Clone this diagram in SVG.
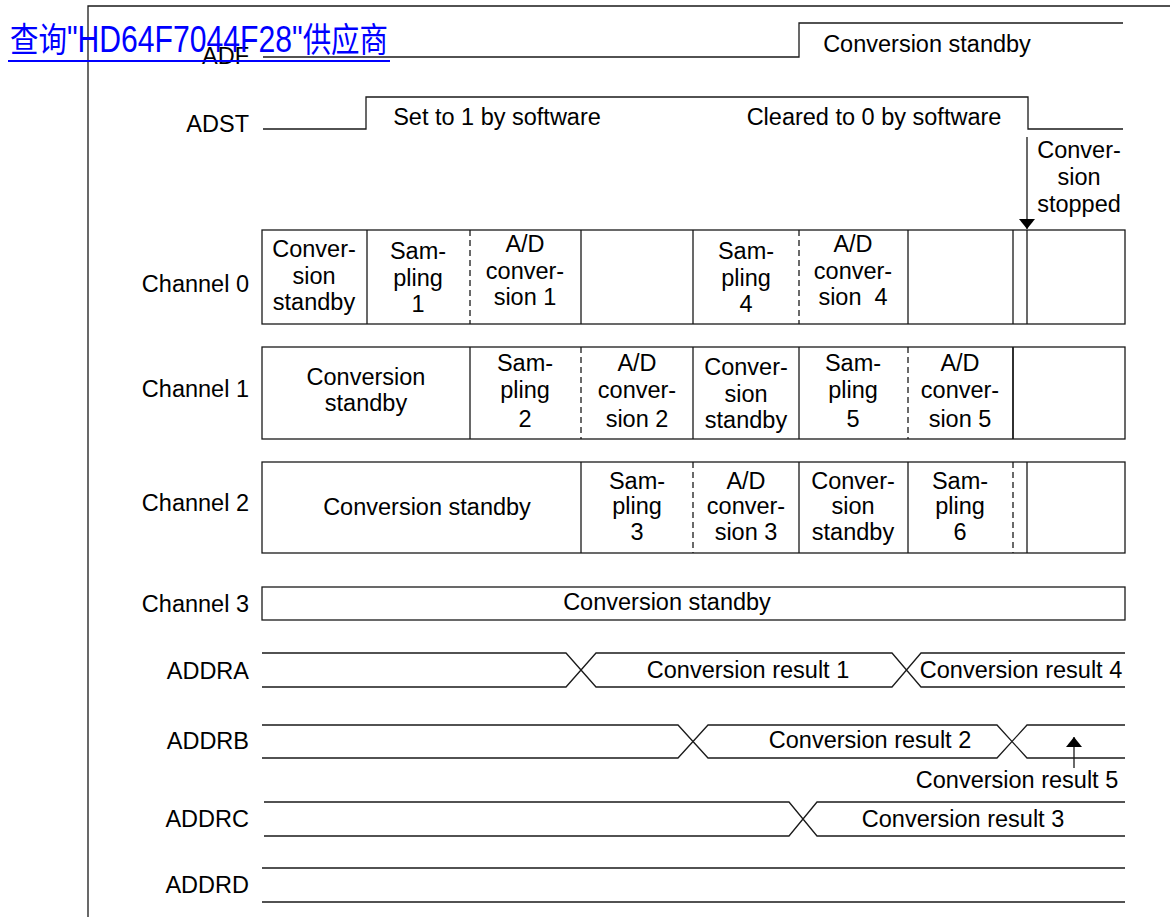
<svg xmlns="http://www.w3.org/2000/svg" width="1170" height="917" viewBox="0 0 1170 917">
<defs>
<style>
.ln{fill:none;stroke:#1a1a1a;stroke-width:1.3}
.ds{fill:none;stroke:#1a1a1a;stroke-width:1.3;stroke-dasharray:6 4}
.bx{fill:#fff;stroke:#1a1a1a;stroke-width:1.3}
text{font-family:"Liberation Sans",Arial,sans-serif;font-size:23.5px;fill:#000}
.lb{text-anchor:end}
.c{text-anchor:middle}
.link{font-family:"Liberation Sans","Noto Sans CJK SC",sans-serif;font-size:36px;fill:#0000ff}
.cjk{font-family:"Noto Sans CJK SC",sans-serif;font-size:34px}
</style>
<marker id="ah" viewBox="0 0 10 16" refX="10" refY="8" markerWidth="10" markerHeight="16" markerUnits="userSpaceOnUse" orient="auto-start-reverse">
<path d="M0,0 L10,8 L0,16 Z" fill="#000"/>
</marker>
</defs>
<rect width="1170" height="917" fill="#fff"/>

<g id="frame">
<path class="ln" d="M88,917 V6 H1170"/>
</g>

<g id="labels">
<text class="lb" x="249" y="64">ADF</text>
<text class="lb" x="249" y="132">ADST</text>
<text class="lb" x="249" y="292">Channel 0</text>
<text class="lb" x="249" y="397">Channel 1</text>
<text class="lb" x="249" y="511">Channel 2</text>
<text class="lb" x="249" y="612">Channel 3</text>
<text class="lb" x="249" y="679">ADDRA</text>
<text class="lb" x="249" y="749">ADDRB</text>
<text class="lb" x="249" y="827">ADDRC</text>
<text class="lb" x="249" y="893">ADDRD</text>
</g>

<g id="adf">
<path class="ln" d="M263,57 H799 V23 H1123"/>
<text class="c" x="927" y="52">Conversion standby</text>
</g>

<g id="adst">
<path class="ln" d="M263,129 H366 V97 H1028 V129 H1123"/>
<text class="c" x="497" y="125">Set to 1 by software</text>
<text class="c" x="874" y="125">Cleared to 0 by software</text>
</g>

<g id="stopped">
<text class="c" x="1079" y="158">Conver-</text>
<text class="c" x="1079" y="185">sion</text>
<text class="c" x="1079" y="212">stopped</text>
</g>

<g id="channel0">
<rect class="bx" x="262" y="230" width="863" height="94"/>
<path class="ln" d="M367,230 V324 M581,230 V324 M693,230 V324 M908,230 V324 M1013,230 V324 M1027,230 V324"/>
<path class="ds" d="M470,230 V324 M799,230 V324"/>
<text class="c" x="314" y="257">Conver-</text>
<text class="c" x="314" y="284">sion</text>
<text class="c" x="314" y="310">standby</text>
<text class="c" x="418" y="259">Sam-</text>
<text class="c" x="418" y="286">pling</text>
<text class="c" x="418" y="312">1</text>
<text class="c" x="525" y="252">A/D</text>
<text class="c" x="525" y="279">conver-</text>
<text class="c" x="525" y="305">sion 1</text>
<text class="c" x="746" y="259">Sam-</text>
<text class="c" x="746" y="286">pling</text>
<text class="c" x="746" y="312">4</text>
<text class="c" x="853" y="252">A/D</text>
<text class="c" x="853" y="279">conver-</text>
<text class="c" x="853" y="305" style="white-space:pre">sion  4</text>
</g>

<g id="channel1">
<rect class="bx" x="262" y="347" width="863" height="92"/>
<path class="ln" d="M470,347 V439 M693,347 V439 M799,347 V439"/>
<path class="ln" style="stroke-width:1.8" d="M1013,347 V439"/>
<path class="ds" d="M581,347 V439 M908,347 V439"/>
<text class="c" x="366" y="385">Conversion</text>
<text class="c" x="366" y="411">standby</text>
<text class="c" x="525" y="371">Sam-</text>
<text class="c" x="525" y="398">pling</text>
<text class="c" x="525" y="427">2</text>
<text class="c" x="637" y="371">A/D</text>
<text class="c" x="637" y="398">conver-</text>
<text class="c" x="637" y="427">sion 2</text>
<text class="c" x="746" y="375">Conver-</text>
<text class="c" x="746" y="402">sion</text>
<text class="c" x="746" y="428">standby</text>
<text class="c" x="853" y="371">Sam-</text>
<text class="c" x="853" y="398">pling</text>
<text class="c" x="853" y="427">5</text>
<text class="c" x="960" y="371">A/D</text>
<text class="c" x="960" y="398">conver-</text>
<text class="c" x="960" y="427">sion 5</text>
</g>

<g id="channel2">
<rect class="bx" x="262" y="462" width="863" height="91"/>
<path class="ln" d="M581,462 V553 M799,462 V553 M908,462 V553 M1027,462 V553"/>
<path class="ds" d="M693,462 V553 M1013,462 V553"/>
<text class="c" x="427" y="515">Conversion standby</text>
<text class="c" x="637" y="489">Sam-</text>
<text class="c" x="637" y="514">pling</text>
<text class="c" x="637" y="540">3</text>
<text class="c" x="746" y="489">A/D</text>
<text class="c" x="746" y="514">conver-</text>
<text class="c" x="746" y="540">sion 3</text>
<text class="c" x="853" y="489">Conver-</text>
<text class="c" x="853" y="514">sion</text>
<text class="c" x="853" y="540">standby</text>
<text class="c" x="960" y="489">Sam-</text>
<text class="c" x="960" y="514">pling</text>
<text class="c" x="960" y="540">6</text>
</g>

<g id="channel3">
<rect class="bx" x="262" y="587" width="863" height="33"/>
<text class="c" x="667" y="610">Conversion standby</text>
</g>

<g id="addra">
<path class="ln" d="M262,653 H566 L596,687 H892 L921,653 H1125 M262,687 H566 L596,653 H892 L921,687 H1125"/>
<text class="c" x="748" y="678">Conversion result 1</text>
<text class="c" x="1021" y="678">Conversion result 4</text>
</g>

<g id="addrb">
<path class="ln" d="M262,725 H678 L708,758 H997 L1027,725 H1125 M262,758 H678 L708,725 H997 L1027,758 H1125"/>
<text class="c" x="870" y="748">Conversion result 2</text>
<text class="c" x="1017" y="788">Conversion result 5</text>
</g>

<g id="addrc">
<path class="ln" d="M264,802 H789 L817,836 H1125 M264,836 H789 L817,802 H1125"/>
<text class="c" x="963" y="827">Conversion result 3</text>
</g>

<g id="addrd">
<path class="ln" d="M262,868 H1125 M262,902 H1125"/>
</g>

<g id="connectors">
<line class="ln" x1="1027" y1="137" x2="1027" y2="229" marker-end="url(#ah)"/>
<line class="ln" x1="1074" y1="768" x2="1074" y2="737" marker-end="url(#ah)"/>
</g>

<g id="link">
<text class="link" x="10" y="52" textLength="378" lengthAdjust="spacingAndGlyphs"><tspan class="cjk">查询</tspan>"HD64F7044F28"<tspan class="cjk">供应商</tspan></text>
<line x1="8" y1="61" x2="390" y2="61" stroke="#0000ff" stroke-width="2"/>
</g>
</svg>
